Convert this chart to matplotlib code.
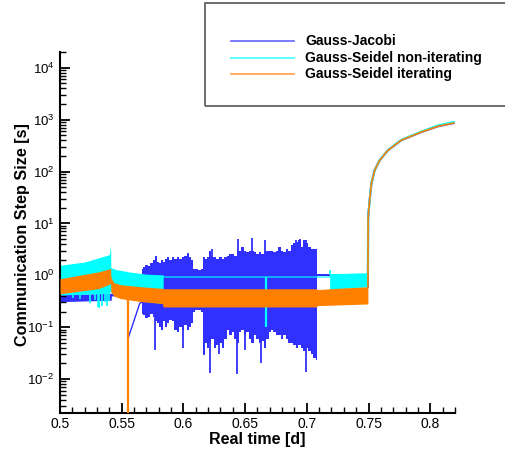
#!/usr/bin/env python3
"""
Communication step size over real time for three co-simulation schemes
(Gauss-Jacobi, Gauss-Seidel non-iterating, Gauss-Seidel iterating)
"""

import matplotlib
matplotlib.use('Agg')
import matplotlib.pyplot as plt
from matplotlib.lines import Line2D
from matplotlib.patches import Rectangle
from matplotlib.ticker import FixedLocator, MultipleLocator, NullFormatter

# ---- data ----
series_names = ['Gauss-Jacobi', 'Gauss-Seidel non-iterating', 'Gauss-Seidel iterating']

# Gauss-Seidel iterating (orange): band of oscillation, then the final ramp
gsi_band_x = [0.500, 0.531, 0.541, 0.5412, 0.5435, 0.549, 0.566, 0.583, 0.5836, 0.640, 0.7080, 0.7085, 0.730, 0.7495]
gsi_band_hi = [0.86, 1.16, 1.35, 0.93, 0.72, 0.66, 0.60, 0.56, 0.55, 0.55, 0.55, 0.53, 0.57, 0.60]
gsi_band_lo = [0.44, 0.55, 0.69, 0.48, 0.40, 0.355, 0.31, 0.285, 0.245, 0.245, 0.245, 0.26, 0.27, 0.28]
gsi_drop_x = 0.555
gsi_drop_lo = 0.001
gsi_drop_hi = 0.40
ramp_x = [0.7495, 0.7497, 0.7509, 0.7523, 0.7549, 0.7590, 0.7657, 0.7765, 0.7927, 0.8062, 0.8190]
gsi_ramp_y = [0.60, 13, 28, 58, 105, 164, 256, 400, 576, 745, 860]

# Gauss-Seidel non-iterating (cyan)
gsn_band_x = [0.500, 0.520, 0.540, 0.5410, 0.5412, 0.545, 0.556, 0.570, 0.5836]
gsn_band_hi = [1.56, 1.80, 2.50, 3.80, 1.40, 1.30, 1.16, 1.05, 1.02]
gsn_band_lo = [0.42, 0.43, 0.46, 0.50, 0.48, 0.40, 0.355, 0.31, 0.285]
gsn_dip_x = [0.5105, 0.516, 0.524, 0.5285, 0.5308, 0.532, 0.534, 0.5365, 0.5378, 0.540]
gsn_dip_y = [0.36, 0.35, 0.29, 0.33, 0.25, 0.23, 0.26, 0.30, 0.26, 0.32]
gsn_flat_x = [0.5836, 0.7185]
gsn_flat_y = [0.94, 0.94]
gsn_cut_x = 0.6672
gsn_cut_lo = 0.10
gsn_cut_hi = 0.94
gsn_band2_x = [0.7185, 0.7300, 0.7495]
gsn_band2_hi = [1.08, 1.09, 1.12]
gsn_band2_lo = [0.53, 0.56, 0.60]
gsn_peak_x = 0.7185
gsn_peak_y = 1.27
gsn_ramp_y = [1.12, 13, 28, 58, 105, 165, 258, 405, 585, 770, 900]

# Gauss-Jacobi (blue)
gj_start_x = [0.500, 0.5415, 0.5416, 0.5550]
gj_start_hi = [0.42, 0.45, 0.45, 0.45]
gj_start_lo = [0.31, 0.33, 0.40, 0.40]
gj_link_x = [0.5556, 0.5647, 0.5661]
gj_link_y = [0.065, 0.29, 0.30]
gj_x = [0.5661, 0.5680, 0.5700, 0.5720, 0.5740, 0.5760, 0.5777, 0.5790, 0.5809, 0.5825,
        0.5840, 0.5860, 0.5877, 0.5895, 0.5915, 0.5935, 0.5955, 0.5975, 0.5998, 0.6015,
        0.6038, 0.6055, 0.6070, 0.6085, 0.6100, 0.6130, 0.6155, 0.6166, 0.6185, 0.6200,
        0.6214, 0.6235, 0.6255, 0.6275, 0.6300, 0.6320, 0.6340, 0.6360, 0.6380, 0.6400,
        0.6420, 0.6443, 0.6460, 0.6480, 0.6500, 0.6520, 0.6540, 0.6560, 0.6580, 0.6600,
        0.6620, 0.6640, 0.6660, 0.6680, 0.6700, 0.6720, 0.6740, 0.6760, 0.6780, 0.6800,
        0.6820, 0.6840, 0.6860, 0.6880, 0.6900, 0.6920, 0.6940, 0.6960, 0.6980, 0.7000,
        0.7020, 0.7040, 0.7060, 0.7082]
gj_hi = [1.30, 1.45, 1.60, 1.50, 1.70, 1.95, 2.40, 1.80, 1.70, 2.00,
         1.80, 2.10, 2.25, 1.95, 2.25, 2.10, 2.25, 2.10, 2.25, 2.40,
         2.60, 2.25, 2.00, 1.30, 1.30, 1.25, 1.30, 2.25, 2.10, 2.25,
         3.00, 2.25, 2.25, 2.10, 2.25, 2.10, 2.25, 2.40, 2.60, 2.60,
         2.40, 3.00, 3.00, 3.50, 3.00, 2.80, 3.00, 3.00, 2.80, 2.60,
         2.80, 2.60, 2.80, 3.00, 3.00, 3.00, 2.80, 3.00, 3.50, 3.00,
         2.80, 3.20, 3.00, 3.80, 4.10, 4.40, 4.70, 3.50, 4.70, 4.10,
         3.50, 3.20, 3.20, 3.20]
gj_lo = [0.18, 0.17, 0.15, 0.16, 0.18, 0.16, 0.13, 0.12, 0.10, 0.09,
         0.13, 0.10, 0.12, 0.14, 0.13, 0.09, 0.08, 0.10, 0.09, 0.11,
         0.09, 0.10, 0.12, 0.20, 0.21, 0.21, 0.20, 0.03, 0.05, 0.04,
         0.05, 0.06, 0.04, 0.045, 0.05, 0.04, 0.06, 0.09, 0.07, 0.08,
         0.06, 0.05, 0.08, 0.09, 0.07, 0.08, 0.06, 0.05, 0.07, 0.06,
         0.05, 0.055, 0.04, 0.06, 0.08, 0.09, 0.08, 0.07, 0.07, 0.06,
         0.07, 0.06, 0.05, 0.05, 0.045, 0.04, 0.045, 0.04, 0.035, 0.04,
         0.035, 0.03, 0.026, 0.023]
gj_spike_up_x = [0.6038, 0.6228, 0.6443, 0.6556, 0.6659, 0.6915, 0.6942, 0.6996]
gj_spike_up_y = [2.65, 3.2, 4.9, 5.3, 4.7, 4.7, 4.9, 4.7]
gj_spike_dn_x = [0.5769, 0.5998, 0.6166, 0.6214, 0.6290, 0.6435, 0.6500, 0.6632, 0.6997]
gj_spike_dn_y = [0.036, 0.039, 0.029, 0.013, 0.030, 0.0124, 0.036, 0.020, 0.0138]
gj_tail_x = [0.7085, 0.7185]
gj_tail_hi = [1.08, 1.08]
gj_tail_lo = [0.95, 0.95]
gj_ramp_y = [0.60, 13, 28, 58, 105, 164, 256, 400, 576, 745, 860]

x_ticks = [0.5, 0.55, 0.6, 0.65, 0.7, 0.75, 0.8]
y_ticks = [1e-2, 1e-1, 1e0, 1e1, 1e2, 1e3, 1e4]

BLUE = '#3030ff'
CYAN = '#00ffff'
ORANGE = '#ff8000'


def make_plot(out_path='out.png'):
    plt.rcParams['font.family'] = ['Liberation Sans', 'DejaVu Sans']
    plt.rcParams['mathtext.default'] = 'regular'

    fig = plt.figure(figsize=(5.05, 4.5), dpi=100)
    ax = fig.add_axes([0.1188, 0.0829, 0.782, 0.802])
    ax.set_yscale('log')

    # Gauss-Jacobi
    ax.fill_between(gj_start_x, gj_start_lo, gj_start_hi, color=BLUE, lw=0, zorder=1)
    ax.plot(gj_link_x, gj_link_y, color=BLUE, lw=1, zorder=1)
    ax.fill_between(gj_x, gj_lo, gj_hi, step='mid', color=BLUE, lw=0, zorder=1)
    ax.vlines(gj_spike_up_x, 0.9, gj_spike_up_y, color=BLUE, lw=1.3, zorder=1)
    ax.vlines(gj_spike_dn_x, gj_spike_dn_y, 0.2, color=BLUE, lw=1.3, zorder=1)
    ax.fill_between(gj_tail_x, gj_tail_lo, gj_tail_hi, color=BLUE, lw=0, zorder=1)
    ax.plot(ramp_x, gj_ramp_y, color=BLUE, lw=1.5, zorder=1)

    # Gauss-Seidel non-iterating
    ax.fill_between(gsn_band_x, gsn_band_lo, gsn_band_hi, color=CYAN, lw=0, zorder=2)
    ax.vlines(gsn_dip_x, gsn_dip_y, 0.45, color=CYAN, lw=1.2, zorder=2)
    ax.plot(gsn_flat_x, gsn_flat_y, color=CYAN, lw=1.3, alpha=0.65, zorder=2)
    ax.vlines(gsn_cut_x, gsn_cut_lo, gsn_cut_hi, color=CYAN, lw=1.6, zorder=2)
    ax.fill_between(gsn_band2_x, gsn_band2_lo, gsn_band2_hi, color=CYAN, lw=0, zorder=2)
    ax.vlines(gsn_peak_x, 1.0, gsn_peak_y, color=CYAN, lw=1.2, zorder=2)
    ax.plot(ramp_x, gsn_ramp_y, color=CYAN, lw=1.6, zorder=2)

    # Gauss-Seidel iterating
    ax.fill_between(gsi_band_x, gsi_band_lo, gsi_band_hi, color=ORANGE, lw=0, zorder=3)
    ax.vlines(gsi_drop_x, gsi_drop_lo, gsi_drop_hi, color=ORANGE, lw=1.6, zorder=3)
    ax.plot(ramp_x, gsi_ramp_y, color=ORANGE, lw=1.2, zorder=3)

    # axes styling
    for side in ['top', 'right']:
        ax.spines[side].set_visible(False)
    for side in ['left', 'bottom']:
        ax.spines[side].set_linewidth(1.5)

    ax.set_xticks(x_ticks)
    ax.set_xticklabels([f'{v:g}' for v in x_ticks])
    ax.xaxis.set_minor_locator(MultipleLocator(0.01))
    ax.set_yticks(y_ticks)
    ax.set_yticklabels([f'$10^{{{e}}}$' for e in range(-2, 5)])
    y_minor = [m * 10.0 ** e for e in range(-3, 5) for m in range(2, 10)]
    ax.yaxis.set_minor_locator(FixedLocator(y_minor))
    ax.yaxis.set_minor_formatter(NullFormatter())
    ax.set_xlim(0.5, 0.82)
    ax.set_ylim(10 ** -2.649, 10 ** 4.308)

    ax.tick_params(axis='both', which='major', direction='in', length=7, width=1.3,
                   labelsize=10)
    ax.tick_params(axis='both', which='minor', direction='in', length=4, width=1.0)
    ax.tick_params(axis='y', which='major', pad=4, labelsize=9.5)
    ax.tick_params(axis='x', which='major', pad=3)

    fig.text(0.044, 0.479, 'Communication Step Size [s]', rotation=90,
             ha='center', va='center', fontsize=11.6, fontweight='bold')
    fig.text(0.509, 1 - 444 / 450, 'Real time [d]', ha='center', va='baseline',
             fontsize=11.5, fontweight='bold')

    # legend box drawn by hand so it can run off the right edge like the original
    fig.add_artist(Rectangle((205 / 505, 1 - 106 / 450), 320 / 505, 103 / 450,
                             transform=fig.transFigure, fill=False,
                             ec='#555555', lw=1.2, zorder=10))
    colors = [BLUE, CYAN, ORANGE]
    rows = [41, 58, 74]
    for name, col, row in zip(series_names, colors, rows):
        yy = 1 - row / 450
        fig.add_artist(Line2D([231 / 505, 294 / 505], [yy, yy], transform=fig.transFigure,
                              color=col, lw=1.2, alpha=0.75))
        fig.text(305 / 505, yy, name, ha='left', va='center', fontsize=10,
                 fontweight='bold')

    fig.savefig(out_path, dpi=100, facecolor='white')
    plt.close(fig)


if __name__ == "__main__":
    make_plot()
